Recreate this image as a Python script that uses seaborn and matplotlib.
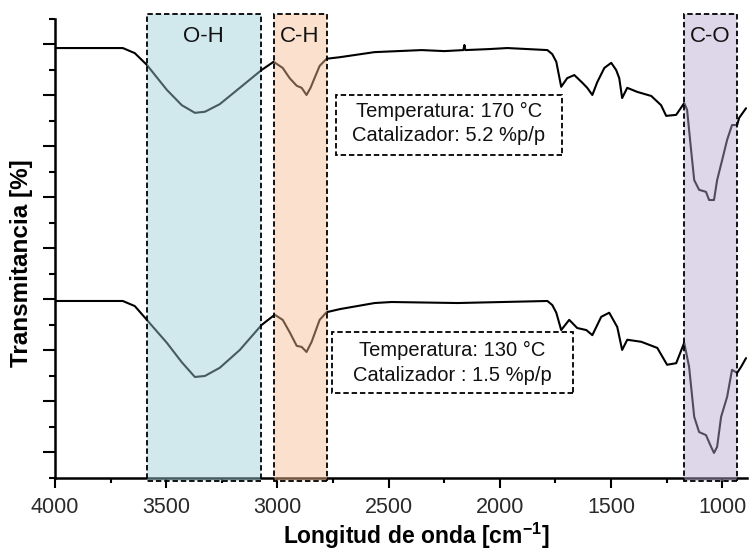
import numpy as np
import pandas as pd
import matplotlib
matplotlib.use("Agg")
import matplotlib.pyplot as plt
from matplotlib.patches import Rectangle
from matplotlib.ticker import MultipleLocator
import seaborn as sns

# ---------------- data ----------------
wn_170 = [4000, 3695, 3641, 3587, 3497, 3430, 3371, 3326, 3259, 3169, 3071, 3017,
          2976, 2945, 2913, 2891, 2869, 2851, 2833, 2810, 2779, 2720, 2563, 2352,
          2249, 2164, 2159, 2155, 2047, 1966, 1786, 1764, 1746, 1724, 1697, 1665,
          1629, 1607, 1584, 1562, 1530, 1499, 1477, 1463, 1450, 1427, 1382, 1319,
          1275, 1252, 1207, 1171, 1158, 1140, 1126, 1104, 1073, 1059, 1037, 1023,
          1000, 978, 956, 933, 924, 893]
tr_170 = [7.93, 7.93, 7.83, 7.60, 7.11, 6.81, 6.66, 6.68, 6.83, 7.15, 7.50, 7.66,
          7.54, 7.34, 7.19, 7.15, 7.01, 7.15, 7.34, 7.58, 7.72, 7.75, 7.85, 7.89,
          7.87, 7.89, 7.99, 7.89, 7.91, 7.93, 7.89, 7.81, 7.66, 7.17, 7.34, 7.40,
          7.25, 7.15, 7.01, 7.26, 7.54, 7.64, 7.50, 7.34, 6.95, 7.15, 7.07, 6.99,
          6.81, 6.60, 6.62, 6.85, 6.72, 5.93, 5.34, 5.15, 5.11, 4.95, 4.95, 5.34,
          5.74, 6.13, 6.42, 6.42, 6.56, 6.75]

wn_130 = [4000, 3695, 3641, 3587, 3497, 3430, 3371, 3326, 3259, 3169, 3071, 3012,
          2976, 2945, 2913, 2891, 2869, 2846, 2810, 2779, 2720, 2563, 2487, 2190,
          1786, 1764, 1746, 1724, 1688, 1652, 1611, 1584, 1544, 1508, 1472, 1450,
          1427, 1364, 1292, 1248, 1207, 1171, 1149, 1126, 1104, 1073, 1050, 1037,
          1023, 1005, 978, 956, 933, 915, 893]
tr_130 = [2.97, 2.97, 2.87, 2.60, 2.15, 1.77, 1.48, 1.50, 1.66, 2.01, 2.50, 2.70,
          2.60, 2.36, 2.09, 2.07, 1.97, 2.17, 2.60, 2.75, 2.81, 2.93, 2.95, 2.93,
          2.97, 2.89, 2.74, 2.40, 2.60, 2.44, 2.40, 2.30, 2.66, 2.74, 2.46, 2.01,
          2.21, 2.17, 2.05, 1.72, 1.75, 2.15, 1.68, 0.70, 0.40, 0.34, 0.11, -0.01,
          0.11, 0.70, 1.09, 1.62, 1.56, 1.68, 1.85]

band_labels = ["O-H", "C-H", "C-O"]
band_start = [3587, 3017, 1171]
band_end = [3075, 2779, 933]

box_lines_170 = ["Temperatura: 170 °C", "Catalizador: 5.2 %p/p"]
box_lines_130 = ["Temperatura: 130 °C", "Catalizador : 1.5 %p/p"]

x_ticks = [4000, 3500, 3000, 2500, 2000, 1500, 1000]

# ---------------- style ----------------
sns.set_style("ticks")
plt.rcParams["font.family"] = ["Liberation Sans", "DejaVu Sans"]
plt.rcParams["mathtext.fontset"] = "custom"
plt.rcParams["mathtext.rm"] = "Liberation Sans"
plt.rcParams["mathtext.bf"] = "Liberation Sans:bold"

band_colors = ["#9bccd9", "#f8bc90", "#b6a8d0"]

df = pd.concat([
    pd.DataFrame({"wn": wn_170, "T": tr_170, "s": "170"}),
    pd.DataFrame({"wn": wn_130, "T": tr_130, "s": "130"}),
], ignore_index=True)

fig = plt.figure(figsize=(7.55, 5.5), dpi=100)
ax = fig.add_axes([0.0728, 0.131, 0.9162, 0.8345])

sns.lineplot(data=df, x="wn", y="T", units="s", estimator=None, color="black",
             linewidth=1.5, ax=ax, legend=False, zorder=2)

ytop, ybot = 8.6, -0.56
for lab, a, b, c in zip(band_labels, band_start, band_end, band_colors):
    ax.add_patch(Rectangle((b, ybot), a - b, ytop - ybot, facecolor=c, alpha=0.45,
                           edgecolor="none", zorder=3, clip_on=False))
    ax.add_patch(Rectangle((b, ybot), a - b, ytop - ybot, facecolor="none",
                           edgecolor="black", linewidth=1.3, linestyle=(0, (3, 1.6)),
                           zorder=4, clip_on=False))
    ax.text((a + b) / 2, 8.15, lab, ha="center", va="center", fontsize=16,
            color="#111111", zorder=5)

# text boxes
def tbox(x0, x1, y0, y1, lines, ys):
    ax.add_patch(Rectangle((x1, y0), x0 - x1, y1 - y0, facecolor="white",
                           edgecolor="black", linewidth=1.3, linestyle=(0, (3, 1.6)),
                           zorder=4, clip_on=False))
    for t, yy in zip(lines, ys):
        ax.text((x0 + x1) / 2, yy, t, ha="center", va="center", fontsize=14.5,
                color="#111111", zorder=5)

tbox(2738, 1719, 5.83, 7.01, box_lines_170, [6.68, 6.22])
tbox(2756, 1670, 1.17, 2.36, box_lines_130, [1.99, 1.50])

ax.set_xlim(4000, 890)
ax.set_ylim(-0.5, 8.5)
ax.set_xticks(x_ticks)
ax.xaxis.set_minor_locator(MultipleLocator(250))
ax.yaxis.set_major_locator(MultipleLocator(1))
ax.yaxis.set_minor_locator(MultipleLocator(0.5))
ax.set_yticklabels([])
ax.tick_params(axis="x", which="major", length=7, width=1.5, labelsize=15.5,
               labelcolor="#2a2a2a", pad=7, color="black")
ax.tick_params(axis="x", which="minor", length=3.5, width=1.5, color="black")
ax.tick_params(axis="y", which="major", length=8.5, width=1.5, color="black")
ax.tick_params(axis="y", which="minor", length=4.5, width=1.5, color="black")

for s in ["top", "right"]:
    ax.spines[s].set_visible(False)
for s in ["left", "bottom"]:
    ax.spines[s].set_linewidth(1.8)
    ax.spines[s].set_color("black")

ax.set_xlabel("Longitud de onda [cm$^{\\mathbf{-1}}$]", fontsize=16.5,
              fontweight="bold", color="black")
ax.set_ylabel("Transmitancia [%]", fontsize=17.5, fontweight="bold", color="black")
ax.xaxis.set_label_coords(0.522, -0.093)
ax.yaxis.set_label_coords(-0.032, 0.468)

fig.savefig("out.png", dpi=100)
